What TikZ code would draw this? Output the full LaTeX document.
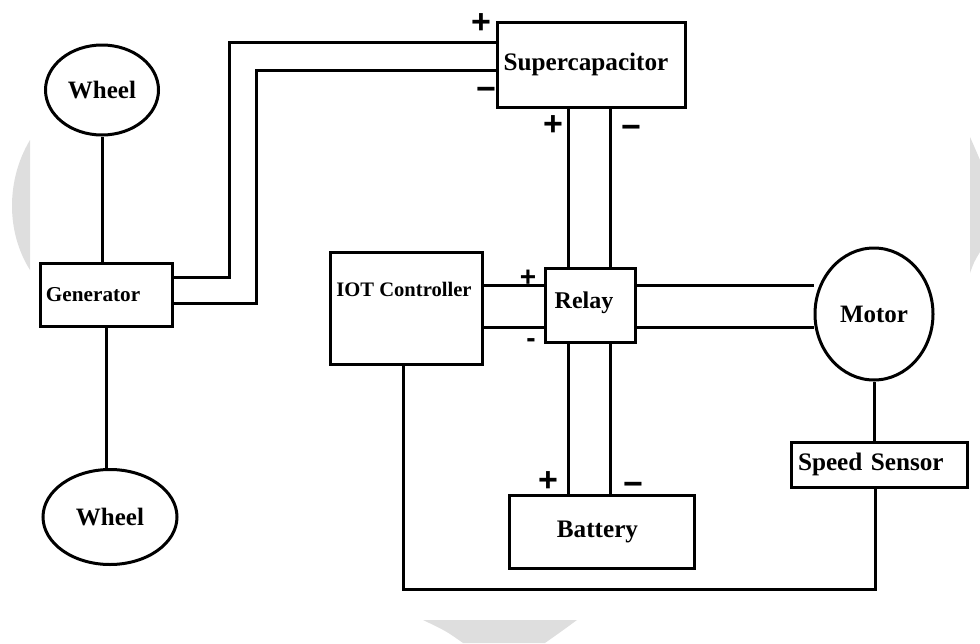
\documentclass[tikz,border=0pt]{standalone}
\usepackage{fontspec}
\setmainfont{Liberation Serif}
\newfontfamily\signfont{Liberation Sans}
\usetikzlibrary{calc}
\usetikzlibrary{shapes.geometric}
\tikzset{
	blk/.style={draw, line width=1.5pt, rectangle, inner sep=0pt, font=\bfseries\fontsize{12.5}{14}\selectfont},
	oval/.style={draw, line width=1.5pt, ellipse, inner sep=0pt, font=\bfseries\fontsize{12.5}{14}\selectfont},
	wire/.style={line width=1.5pt},
	sgn/.style={font=\signfont\bfseries\fontsize{17}{17}\selectfont, inner sep=0pt},
	smallsgn/.style={font=\signfont\bfseries\fontsize{14}{14}\selectfont, inner sep=0pt},
	mark gray/.style={fill=black!13, draw=none},
}

\begin{document}
\begin{tikzpicture}[x=0.5pt, y=-0.5pt]
	\useasboundingbox (0,0) rectangle (980,643);
	\fill[mark gray] (30,140) .. controls (6,180) and (6,232) .. (30,270) -- cycle;
	\fill[mark gray] (970,137) .. controls (974,146) .. (980,160) -- (980,252) .. controls (974,262) .. (970,273) -- cycle;
	\fill[mark gray] (423,620) -- (577,620) .. controls (562,631) .. (545,643) -- (463,643) .. controls (446,631) .. (423,620) -- cycle;

	\node[oval, minimum width=56.5pt, minimum height=45pt] (wheel1) at (102,90) {Wheel};
	\node[oval, minimum width=67pt, minimum height=47.5pt] (wheel2) at (110,517) {Wheel};
	\node[blk, minimum width=66pt, minimum height=31.5pt, text width=60pt, inner xsep=3pt, align=left, font=\bfseries\fontsize{10.6}{12}\selectfont] (gen) at (106,294.5) {Generator};
	\node[blk, minimum width=94pt, minimum height=42.5pt, font=\bfseries\fontsize{12.6}{14}\selectfont] (sc) at (591,64.5) {\raisebox{1pt}{\hspace*{-5pt}Supercapacitor}};
	\node[blk, minimum width=76pt, minimum height=56pt] (iot) at (406,308) {};
	\node[font=\bfseries\fontsize{10.3}{12}\selectfont] at ($ (iot.north) + (-2,39) $) {IOT Controller};
	\node[blk, minimum width=45pt, minimum height=37pt, font=\bfseries\fontsize{12}{14}\selectfont] (relay) at (590,305) {\raisebox{5pt}{\hspace*{-6pt}Relay}};
	\node[blk, minimum width=92.5pt, minimum height=36.5pt, font=\bfseries\fontsize{12.6}{14}\selectfont] (bat) at (601.5,531.5) {\hspace*{-4pt}Battery};
	\node[oval, minimum width=59pt, minimum height=66pt] (motor) at (874,314) {Motor};
	\node[blk, minimum width=88pt, minimum height=22.5pt, text width=81pt, inner xsep=3.5pt, align=left, font=\bfseries\fontsize{12.6}{14}\selectfont] (ss) at (879,464.5) {Speed Sensor};

	\draw[wire] (wheel1.south) -- (wheel1.south |- gen.north);
	\draw[wire] (gen.south) -- (gen.south |- wheel2.north);
	\draw[wire] (gen.east |- 0,277) -| (229,42) -- (sc.west |- 0,42);
	\draw[wire] (gen.east |- 0,303) -| (256,70) -- (sc.west |- 0,70);
	\foreach \x in {568,610}
	\draw[wire] (sc.south -| \x,0) -- (relay.north -| \x,0);
	\foreach \x in {568,610}
	\draw[wire] (relay.south -| \x,0) -- (bat.north -| \x,0);
	\foreach \y in {285,327}
	\draw[wire] (iot.east |- 0,\y) -- (relay.west |- 0,\y);
	\foreach \y in {285,327}
	\draw[wire] (relay.east |- 0,\y) -- (motor.west |- 0,\y);
	\draw[wire] (motor.south) -- (motor.south |- ss.north);
	\draw[wire] (ss.south -| 875,0) |- (403,589) -- (iot.south -| 403,0);

	\foreach \x\y\s in {481/24/+,553/126/+,548/482/+}
	\node[sgn] at (\x,\y) {\s};
	\foreach \x\y in {486/94,631/132,633/489}
	\node[sgn] at (\x,\y) {−};
	\node[smallsgn] at (528,278) {+};
	\node[smallsgn] at (531,343) {-};
\end{tikzpicture}
\end{document}
